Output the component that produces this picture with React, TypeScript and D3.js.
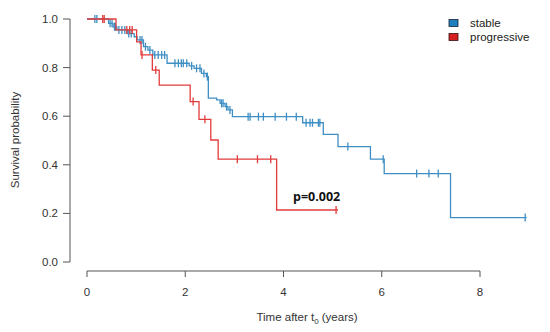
import React from 'react';
import * as d3 from 'd3';

// Kaplan-Meier steps
const stableTimes = [0.44, 0.53, 0.61, 0.82, 0.96, 1.02, 1.15, 1.24, 1.34, 1.63, 2.08, 2.18, 2.33, 2.43, 2.47, 2.64, 2.71, 2.81, 2.87, 2.96, 4.39, 4.81, 5.11, 5.77, 6.05, 7.4];
const stableSurv = [0.982, 0.968, 0.955, 0.94, 0.927, 0.914, 0.886, 0.872, 0.852, 0.818, 0.807, 0.797, 0.776, 0.763, 0.674, 0.667, 0.653, 0.639, 0.626, 0.598, 0.573, 0.525, 0.475, 0.423, 0.364, 0.183];
const stableCensor = [0.16, 0.2, 0.47, 0.51, 0.56, 0.58, 0.65, 0.71, 0.77, 0.85, 0.9, 1.08, 1.12, 1.19, 1.28, 1.38, 1.45, 1.52, 1.58, 1.79, 1.86, 1.92, 1.96, 2.03, 2.13, 2.23, 2.3, 2.38, 2.45, 2.74, 2.77, 2.84, 2.91, 3.28, 3.32, 3.49, 3.59, 3.83, 4.06, 4.26, 4.46, 4.54, 4.59, 4.71, 4.74, 5.31, 6.03, 6.71, 6.96, 7.15, 8.92];
const stableEnd = 8.95;

const progTimes = [0.59, 1.01, 1.1, 1.33, 1.47, 2.1, 2.28, 2.52, 2.67, 3.86];
const progSurv = [0.955, 0.906, 0.852, 0.79, 0.728, 0.66, 0.587, 0.502, 0.423, 0.214];
const progCensor = [0.32, 0.35, 0.81, 0.87, 0.92, 1.12, 1.4, 2.16, 2.4, 3.06, 3.47, 3.74, 5.07];
const progEnd = 5.11;

const xTicks = [0, 2, 4, 6, 8];
const yTicks = [0, 0.2, 0.4, 0.6, 0.8, 1.0];

const BLUE = '#3f8fc4';
const RED = '#e23b3b';

const x = d3.scaleLinear().domain([0, 8]).range([87, 480]);
const y = d3.scaleLinear().domain([0, 1]).range([262, 19]);

const survAt = (times: number[], surv: number[], t: number) => {
  let s = 1;
  times.forEach((tt, i) => { if (tt <= t) s = surv[i]; });
  return s;
};

const stepPath = (times: number[], surv: number[], end: number) => {
  const pts: [number, number][] = [[0, 1]];
  times.forEach((t, i) => pts.push([t, surv[i]]));
  pts.push([end, surv[surv.length - 1]]);
  return d3.line<[number, number]>()
    .x(d => x(d[0]))
    .y(d => y(d[1]))
    .curve(d3.curveStepAfter)(pts) || '';
};

const Curve = ({ times, surv, censor, end, color }: any) => (
  <g stroke={color} fill="none" strokeWidth={1.3}>
    <path d={stepPath(times, surv, end)} />
    {censor.map((t: number, i: number) => {
      const cy = y(survAt(times, surv, t));
      return <line key={i} x1={x(t)} x2={x(t)} y1={cy - 4} y2={cy + 4} />;
    })}
  </g>
);

export default function App() {
  return (
    <svg width={550} height={332} style={{ display: 'block', position: 'absolute', left: 0, top: 0 }}
      fontFamily="'Liberation Sans', Arial, sans-serif">
      <rect width={550} height={332} fill="#fff" />
      {/* y axis */}
      <g stroke="#555" strokeWidth={1}>
        <line x1={70} x2={70} y1={y(0)} y2={y(1)} />
        {yTicks.map(t => <line key={t} x1={63} x2={70} y1={y(t)} y2={y(t)} />)}
        <line x1={x(0)} x2={x(8)} y1={271} y2={271} />
        {xTicks.map(t => <line key={t} x1={x(t)} x2={x(t)} y1={271} y2={277} />)}
      </g>
      <g fontSize={11.5} fill="#333">
        {yTicks.map(t => (
          <text key={t} x={58} y={y(t)} dy="0.35em" textAnchor="end">{t.toFixed(1)}</text>
        ))}
        {xTicks.map(t => (
          <text key={t} x={x(t)} y={292} dy="0.35em" textAnchor="middle">{t}</text>
        ))}
        <text x={307} y={321} textAnchor="middle">
          Time after t<tspan fontSize={8} dy={3}>0</tspan><tspan dy={-3}> (years)</tspan>
        </text>
        <text transform="translate(19,140) rotate(-90)" textAnchor="middle">Survival probability</text>
      </g>
      <Curve times={stableTimes} surv={stableSurv} censor={stableCensor} end={stableEnd} color={BLUE} />
      <Curve times={progTimes} surv={progSurv} censor={progCensor} end={progEnd} color={RED} />
      <text x={293} y={201} fontSize={12.5} fontWeight="bold" fill="#111"
        fontFamily="'Open Sans', 'Liberation Sans', sans-serif">p=0.002</text>
      {/* legend */}
      <g fontSize={11.5} fill="#222">
        <rect x={449} y={19.5} width={9} height={7} fill="#1f7fbf" stroke="#123" strokeWidth={0.8} />
        <text x={470} y={23} dy="0.35em">stable</text>
        <rect x={449} y={33.5} width={9} height={7} fill="#d42020" stroke="#311" strokeWidth={0.8} />
        <text x={470} y={37} dy="0.35em">progressive</text>
      </g>
    </svg>
  );
}
